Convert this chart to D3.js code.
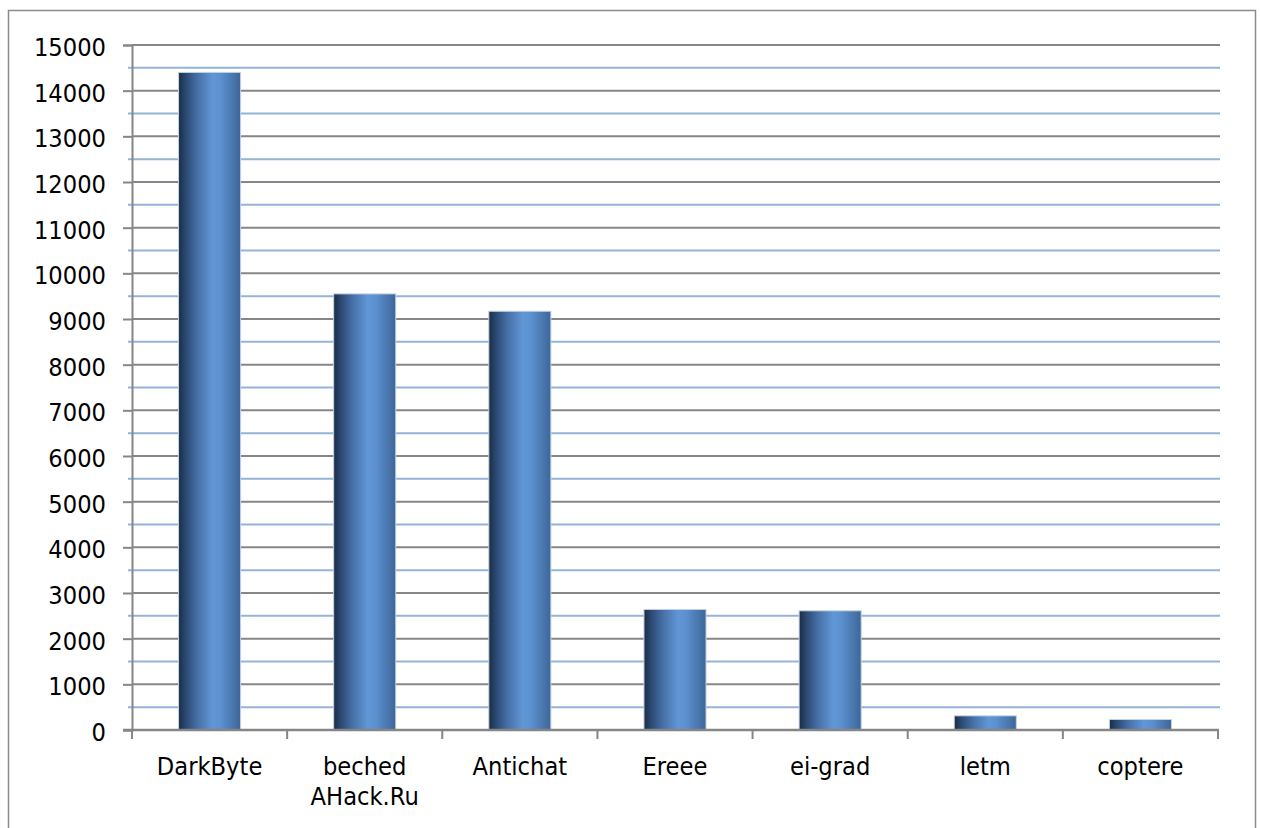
<!DOCTYPE html>
<html>
<head>
<meta charset="utf-8">
<script src="https://cdn.jsdelivr.net/npm/d3@7"></script>
<style>
  html, body { margin: 0; padding: 0; background: #fff; }
  svg { display: block; }
  text { font-family: "DejaVu Sans Condensed", "DejaVu Sans", sans-serif; font-stretch: condensed; fill: #000; }
</style>
</head>
<body>
<div id="chart"></div>
<script>
const categories = ["DarkByte", "beched\nAHack.Ru", "Antichat", "Ereee", "ei-grad", "letm", "coptere"];
const values = [14400, 9550, 9170, 2640, 2610, 310, 230];
const yTicks = d3.range(0, 15001, 1000);
const minorTicks = d3.range(500, 15000, 1000);

const width = 1261, height = 828;
const plot = {left: 132, right: 1218, top: 45, bottom: 730};
const fontSize = 25.2;

const svg = d3.select("#chart").append("svg")
  .attr("width", width)
  .attr("height", height);

// outer chart frame (runs past bottom edge)
svg.append("rect")
  .attr("x", 8.5).attr("y", 10.5)
  .attr("width", 1247).attr("height", 840)
  .attr("fill", "#fff")
  .attr("stroke", "#8c8c8c")
  .attr("stroke-width", 1.5);

const x = d3.scaleBand().domain(categories).range([plot.left, plot.right]).paddingInner(0.6).paddingOuter(0.3);
const xb = d3.scaleBand().domain(categories).range([plot.left, plot.right]);
const y = d3.scaleLinear().domain([0, 15000]).range([plot.bottom, plot.top]);

const defs = svg.append("defs");
const grad = defs.append("linearGradient").attr("id", "barGrad")
  .attr("x1", "0%").attr("x2", "100%").attr("y1", "0%").attr("y2", "0%");
[["0%", "#1b2c45"], ["12%", "#2c4a73"], ["30%", "#466fa6"], ["55%", "#6197d6"], ["68%", "#5c90cf"], ["100%", "#3d6698"]]
  .forEach(([o, c]) => grad.append("stop").attr("offset", o).attr("stop-color", c));

// minor gridlines (blue)
svg.append("g").selectAll("line").data(minorTicks).enter().append("line")
  .attr("x1", plot.left - 4).attr("x2", plot.right + 2)
  .attr("y1", d => y(d)).attr("y2", d => y(d))
  .attr("stroke", "#95b3d7").attr("stroke-width", 2);

// major gridlines (gray)
svg.append("g").selectAll("line").data(yTicks.filter(d => d > 0)).enter().append("line")
  .attr("x1", plot.left).attr("x2", plot.right + 2)
  .attr("y1", d => y(d)).attr("y2", d => y(d))
  .attr("stroke", "#868686").attr("stroke-width", 2);

// y axis
const yAxis = svg.append("g")
  .attr("transform", `translate(${plot.left},0)`)
  .call(d3.axisLeft(y).tickValues(yTicks).tickSize(9).tickPadding(17).tickFormat(d3.format("d")));
yAxis.select(".domain").attr("stroke", "#868686").attr("stroke-width", 2);
yAxis.selectAll(".tick line").attr("stroke", "#868686").attr("stroke-width", 2);
yAxis.selectAll(".tick text")
  .attr("font-size", fontSize)
  .attr("font-family", null)
  .attr("fill", "#000")
  .attr("dy", "0.42em");

// bars
svg.append("g").selectAll("rect").data(categories).enter().append("rect")
  .attr("x", d => x(d))
  .attr("y", (d, i) => y(values[i]))
  .attr("width", x.bandwidth())
  .attr("height", (d, i) => y(0) - y(values[i]))
  .attr("fill", "url(#barGrad)")
  .attr("stroke", "#c4d2e4")
  .attr("stroke-width", 1);

// x axis
const xAxisG = svg.append("g").attr("transform", `translate(0,${plot.bottom})`);
xAxisG.append("line")
  .attr("x1", plot.left - 9).attr("x2", plot.right + 1)
  .attr("stroke", "#868686").attr("stroke-width", 2.5);
const bounds = categories.map(c => xb(c)).concat([xb(categories[categories.length - 1]) + xb.bandwidth()]);
xAxisG.selectAll("line.tick").data(bounds).enter().append("line")
  .attr("class", "tick")
  .attr("x1", d => d).attr("x2", d => d)
  .attr("y1", 0).attr("y2", 9)
  .attr("stroke", "#868686").attr("stroke-width", 2);

const labels = xAxisG.selectAll("text").data(categories).enter().append("text")
  .attr("x", d => xb(d) + xb.bandwidth() / 2)
  .attr("y", 45)
  .attr("text-anchor", "middle")
  .attr("font-size", fontSize);
labels.each(function (d) {
  const t = d3.select(this);
  d.split("\n").forEach((line, i) => {
    t.append("tspan")
      .attr("x", xb(d) + xb.bandwidth() / 2)
      .attr("dy", i === 0 ? 0 : 30)
      .text(line);
  });
});
</script>
</body>
</html>
